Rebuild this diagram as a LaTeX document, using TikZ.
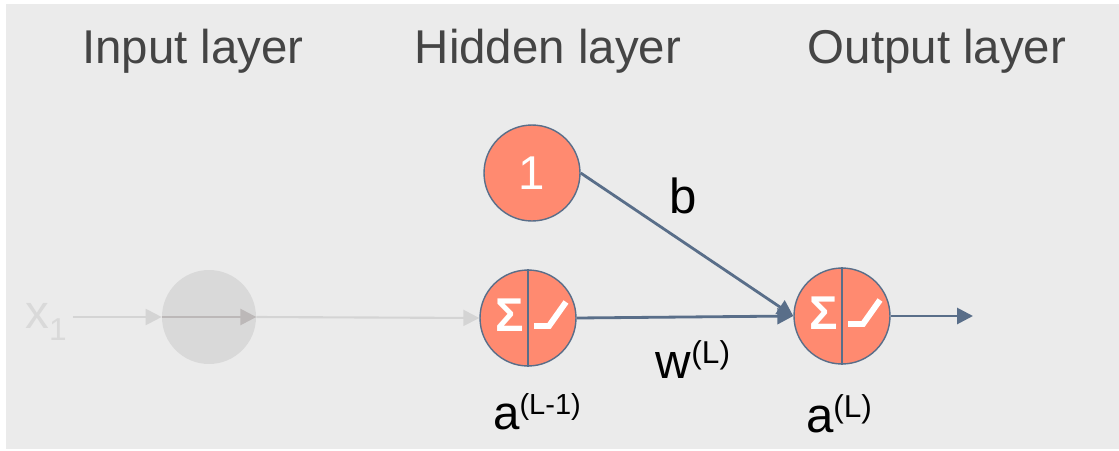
\documentclass[tikz,border=0pt]{standalone}
\usepackage{fontspec}
\setmainfont{Liberation Sans}
\usepackage{tikz}
\usetikzlibrary{arrows.meta,positioning,calc}
\definecolor{unit}{HTML}{FF8A70}
\definecolor{edge}{HTML}{596E89}
\definecolor{panel}{HTML}{EBEBEB}
\definecolor{faded}{HTML}{D9D9D9}
\definecolor{fadedline}{HTML}{D4D4D4}
\definecolor{fadedtip}{HTML}{BCB8B8}
\definecolor{heading}{HTML}{444444}
\newcommand{\supscr}[2]{\raisebox{0.29cm}{\fontsize{#1}{#1}\selectfont #2}}
\newcommand{\subscr}[2]{\raisebox{-0.24cm}{\fontsize{#1}{#1}\selectfont #2}}

\begin{document}
\begin{tikzpicture}[x=0.02cm,y=-0.02cm,
  neuron/.style={circle,draw=edge,line width=0.8pt,fill=unit,minimum size=1.92cm,inner sep=0pt,text=white,font=\fontsize{27}{30}\selectfont},
  ghost/.style={circle,fill=faded,minimum size=1.88cm,inner sep=0pt},
  layer/.style={font=\fontsize{27}{30}\selectfont,text=heading,anchor=base},
  lbl/.style={font=\fontsize{28}{30}\selectfont,anchor=base},
  arrow/.style={-{Triangle[length=3.2mm,width=3.2mm]},line width=1.6pt,draw=edge,fill=edge},
  faint/.style={-{Triangle[length=3.2mm,width=3.2mm]},line width=1.2pt,draw=fadedline,fill=fadedline}
]
\useasboundingbox (0,0) rectangle (1119,450);
\fill[panel] (6,4) rectangle (1119,449);

% layer headings
\node[layer] (inlayer) at (193,63) {Input layer};
\node[layer] (hidlayer) at (548,63) {Hidden layer};
\node[layer] (outlayer) at (937,63) {Output layer};

% units
\node[ghost] (in) at (209,317) {};
\node[neuron] (bias) at (532,173) {1};
\node[neuron] (hid) at (528,318) {};
\node[neuron] (out) at (842,316) {};
\node[font=\fontsize{27}{30}\selectfont,text=faded] (x1) at (46,322) {x\subscr{18}{1}};
\coordinate (end) at (973,316);

% sum | relu split inside the two active units
\foreach \n in {hid,out} {
  \draw[edge,line width=1.2pt] (\n.north) -- (\n.south);
  \node[font=\fontsize{27}{30}\selectfont\bfseries,text=white] at ($(\n)+(-18,-3)$) {Σ};
  \draw[white,line width=3.4pt] ($(\n)+(6,8)$) -- ++(15,0) -- ++(17,-24);
}

% connections
\draw[faint] (x1.east |- in) -- (in.west);
\draw[-{Triangle[length=3.2mm,width=3.2mm]},line width=1.4pt,draw=fadedtip,fill=fadedtip] (in.west) -- (in.east);
\draw[faint] (in.east) -- (hid.west);
\draw[arrow] (hid.east) -- (out.west);
\draw[arrow] (bias.east) -- (out.west);
\draw[arrow] (out.east) -- (end);

% edge and activation labels
\node[lbl] (blbl) at (683,213) {b};
\node[lbl] (wlbl) at (693,378) {w\supscr{18}{(L)}};
\node[lbl,font=\fontsize{27}{30}\selectfont] (aprev) at (537,429) {a\supscr{16.5}{(L-1)}};
\node[lbl] (aout) at (839,432) {a\supscr{18}{(L)}};
\end{tikzpicture}
\end{document}
